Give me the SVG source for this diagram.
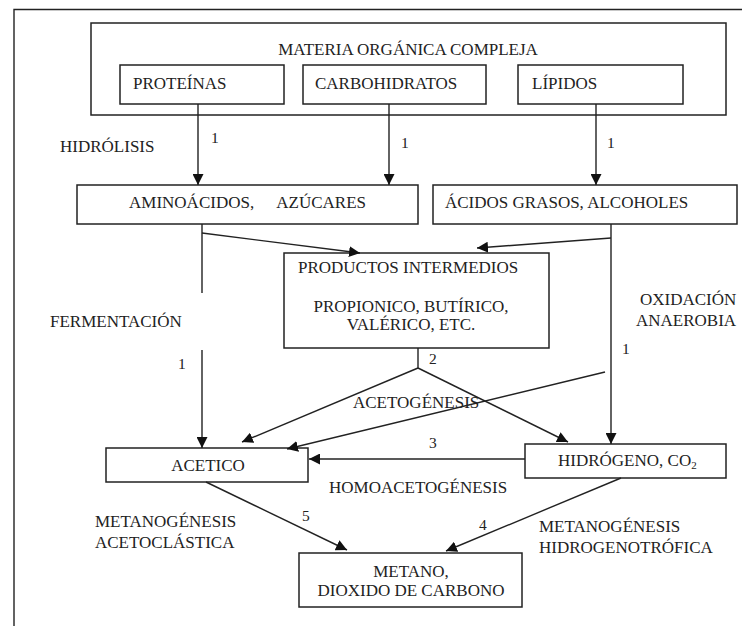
<svg xmlns="http://www.w3.org/2000/svg" width="742" height="626" viewBox="0 0 742 626">
<style>
  .box { fill: #fff; stroke: #222; stroke-width: 1.5; }
  .ln { fill: none; stroke: #222; stroke-width: 1.4; }
  .t { font-family: "Liberation Serif", "Times New Roman", serif; font-size: 17px; fill: #222; }
  .n { font-family: "Liberation Serif", "Times New Roman", serif; font-size: 15.5px; fill: #222; }
  .c { text-anchor: middle; }
</style>
<defs>
  <marker id="ah" viewBox="0 0 10 10" markerUnits="userSpaceOnUse" markerWidth="11" markerHeight="11" refX="10" refY="5" orient="auto">
    <path d="M0,0 L10,5 L0,10 z" fill="#111"/>
  </marker>
</defs>
<rect width="742" height="626" fill="#fff"/>
<g id="frame">
  <path class="ln" d="M14,626 L14,9.5 L742,9.5" stroke-width="1.6"/>
</g>
<g id="materia">
  <rect class="box" x="91" y="23" width="635" height="92"/>
  <text class="t c" x="408" y="55">MATERIA ORGÁNICA COMPLEJA</text>
</g>
<g id="proteinas">
  <rect class="box" x="120" y="65" width="164" height="39"/>
  <text class="t" x="133" y="89">PROTEÍNAS</text>
</g>
<g id="carbohidratos">
  <rect class="box" x="303" y="65" width="183" height="39"/>
  <text class="t" x="315" y="89">CARBOHIDRATOS</text>
</g>
<g id="lipidos">
  <rect class="box" x="518" y="65" width="165" height="39"/>
  <text class="t" x="532" y="89">LÍPIDOS</text>
</g>
<g id="aminoacidos">
  <rect class="box" x="77" y="185" width="341" height="39"/>
  <text class="t"><tspan x="129" y="208">AMINOÁCIDOS,</tspan><tspan x="366" y="208" text-anchor="end">AZÚCARES</tspan></text>
</g>
<g id="acidos">
  <rect class="box" x="433" y="185" width="304" height="39"/>
  <text class="t" x="445" y="208">ÁCIDOS GRASOS, ALCOHOLES</text>
</g>
<g id="productos">
  <rect class="box" x="284" y="253" width="265" height="95"/>
  <text class="t" x="298" y="273">PRODUCTOS INTERMEDIOS</text>
  <text class="t c" x="411" y="312">PROPIONICO, BUTÍRICO,</text>
  <text class="t c" x="411" y="330">VALÉRICO, ETC.</text>
</g>
<g id="acetico">
  <rect class="box" x="106" y="448" width="202" height="34"/>
  <text class="t c" x="208" y="471">ACETICO</text>
</g>
<g id="hidrogeno">
  <rect class="box" x="525" y="444" width="201" height="34"/>
  <text class="t" x="558" y="466">HIDRÓGENO, CO<tspan font-size="11" dy="3">2</tspan></text>
</g>
<g id="metano">
  <rect class="box" x="299" y="553" width="223" height="54"/>
  <text class="t c" x="411" y="577">METANO,</text>
  <text class="t c" x="411" y="596">DIOXIDO DE CARBONO</text>
</g>
<g id="connectors">
  <line class="ln" x1="198" y1="104" x2="198" y2="185" marker-end="url(#ah)"/>
  <line class="ln" x1="389" y1="104" x2="389" y2="185" marker-end="url(#ah)"/>
  <line class="ln" x1="596" y1="104" x2="596" y2="185" marker-end="url(#ah)"/>
  <line class="ln" x1="202" y1="224" x2="202" y2="293"/>
  <line class="ln" x1="202" y1="350" x2="202" y2="448" marker-end="url(#ah)"/>
  <line class="ln" x1="202" y1="233" x2="360" y2="253" marker-end="url(#ah)"/>
  <line class="ln" x1="611" y1="224" x2="611" y2="444" marker-end="url(#ah)"/>
  <line class="ln" x1="611" y1="238" x2="477" y2="248" marker-end="url(#ah)"/>
  <line class="ln" x1="418" y1="348" x2="418" y2="368"/>
  <line class="ln" x1="418" y1="368" x2="242" y2="442" marker-end="url(#ah)"/>
  <line class="ln" x1="418" y1="368" x2="568" y2="442" marker-end="url(#ah)"/>
  <line class="ln" x1="605" y1="372" x2="287" y2="449" marker-end="url(#ah)"/>
  <line class="ln" x1="525" y1="459" x2="309" y2="459" marker-end="url(#ah)"/>
  <line class="ln" x1="206" y1="482" x2="347" y2="550" marker-end="url(#ah)"/>
  <line class="ln" x1="621" y1="478" x2="446" y2="551" marker-end="url(#ah)"/>
</g>
<g id="labels">
  <text class="t" x="60" y="152">HIDRÓLISIS</text>
  <text class="n" x="211" y="143">1</text>
  <text class="n" x="401" y="148">1</text>
  <text class="n" x="607" y="148">1</text>
  <text class="t" x="50" y="327">FERMENTACIÓN</text>
  <text class="t" x="640" y="305">OXIDACIÓN</text>
  <text class="t" x="636" y="326">ANAEROBIA</text>
  <text class="n" x="178" y="369">1</text>
  <text class="n" x="622" y="354">1</text>
  <text class="n" x="429" y="364">2</text>
  <text class="t" x="353" y="408">ACETOGÉNESIS</text>
  <text class="n" x="429" y="448">3</text>
  <text class="t" x="329" y="493">HOMOACETOGÉNESIS</text>
  <text class="t" x="95" y="527">METANOGÉNESIS</text>
  <text class="t" x="95" y="548">ACETOCLÁSTICA</text>
  <text class="n" x="302" y="521">5</text>
  <text class="n" x="479" y="530">4</text>
  <text class="t" x="539" y="532">METANOGÉNESIS</text>
  <text class="t" x="539" y="553">HIDROGENOTRÓFICA</text>
</g>
</svg>
